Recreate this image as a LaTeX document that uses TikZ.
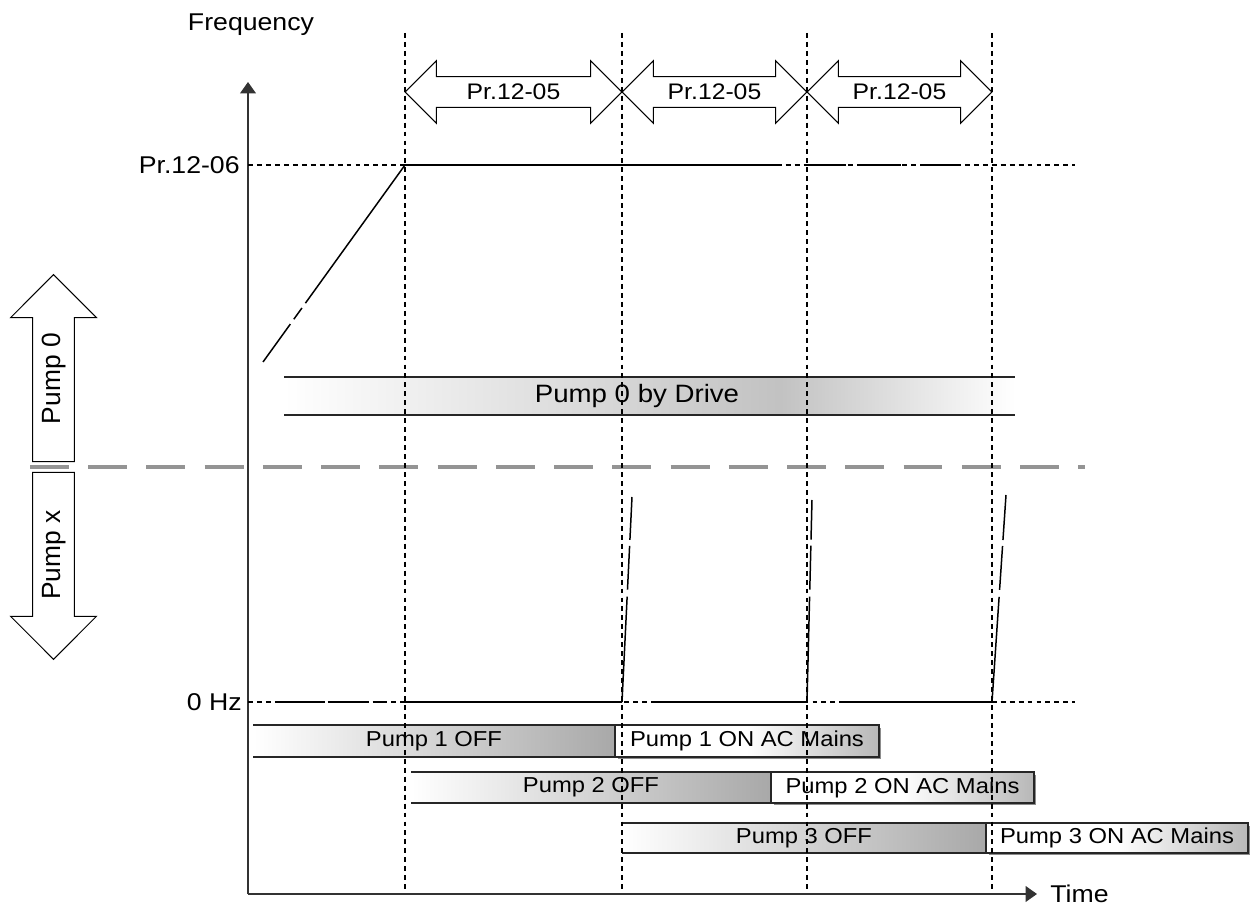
\documentclass[tikz,border=0pt]{standalone}
\usepackage{fontspec}
\setmainfont{Liberation Sans}[FakeStretch=1.1]
\newfontfamily\pumpfont{Liberation Sans}
\usetikzlibrary{arrows.meta, shapes.arrows}

\begin{document}
\begin{tikzpicture}[
  x=0.02cm, y=-0.02cm,
  guide/.style={black, line width=0.7pt, dash pattern=on 2.8pt off 2.3pt},
  curve/.style={black, line width=0.85pt},
  axis/.style={black!80, line width=0.8pt, -{Triangle[length=6.5pt, width=9pt]}},
  sepline/.style={black!42, line width=2.3pt, dash pattern=on 22.1pt off 11.05pt},
  span/.style={double arrow, draw=black, line width=0.6pt, double arrow head extend=9pt, text height=9.1pt, text depth=0pt, inner ysep=3.95pt, inner xsep=0pt, font=\fontsize{12.8}{14}\selectfont},
  pumparrow/.style={single arrow, draw=black, line width=0.6pt, single arrow head extend=12.5pt, text height=10.7pt, text depth=3.1pt, inner ysep=4.7pt, minimum height=3.74cm, font=\pumpfont\fontsize{15}{18}\selectfont, rotate=90, anchor=tip},
  barline/.style={black!85, line width=0.7pt},
  bartext/.style={font=\fontsize{12.3}{14}\selectfont, inner sep=0pt},
  lbl/.style={font=\fontsize{13.8}{15}\selectfont, inner sep=0pt, text height=9.9pt, text depth=0pt}
]
  \useasboundingbox (0,0) rectangle (1259,912);

  % axes
  \coordinate (o) at (248,894);
  \coordinate (ytop) at (248,82);
  \coordinate (xend) at (1037,894);
  \draw[axis] (o) -- (ytop);
  \draw[axis] (o) -- (xend);
  \node[lbl] (freq) at (251,22) {Frequency};
  \node[lbl, anchor=east] (fmax) at (240,165) {Pr.12-06};
  \node[lbl, anchor=east] (fzero) at (242,702) {0 Hz};
  \node[lbl, anchor=west] (time) at (1050,894) {Time};
  \draw[guide] (248,165) -- (1075,165);
  \draw[guide] (248,702) -- (1075,702);

  % drive / mains split
  \node[pumparrow] (pump0) at (53.5,274) {Pump 0};
  \node[pumparrow, shape border rotate=180] (pumpx) at (53.5,660) {Pump x};
  \draw[sepline] (30,467) -- (1085,467);

  \node[span, minimum height=4.34cm] (span1) at (513.5,92) {Pr.12-05};
  \node[span, minimum height=3.7cm] (span2) at (714.5,92) {Pr.12-05};
  \node[span, minimum height=3.7cm] (span3) at (899.5,92) {Pr.12-05};

  % frequency of pump 0
  \draw[curve, dash pattern=on 26.6pt off 3.4pt on 7.9pt off 3.4pt on 100pt] (263,362) -- (405,165);
  \draw[curve, dash pattern=on 214.3pt off 13.6pt on 23.2pt off 7.9pt on 23.2pt off 11.3pt on 22.7pt off 50pt] (405,165) -- (963,165);

  \shade[left color=white, right color=black!24] (284,377) rectangle (780,415);
  \shade[left color=black!24, right color=white] (780,377) rectangle (1015,415);
  \draw[barline] (284,377) -- (1015,377) (284,415) -- (1015,415);
  \node[font=\fontsize{14.3}{16}\selectfont, inner sep=0pt] (drive) at (637,396) {Pump 0 by Drive};

  % frequency of pump x
  \draw[curve, dash pattern=on 27.2pt off 2.8pt on 21pt off 4.5pt on 5.7pt off 12.5pt on 200pt] (275,702) -- (622,702);
  \draw[curve] (652,702) -- (807,702);
  \draw[curve] (842,702) -- (992,702);
  \foreach \xa/\xb/\yt in {622/632/497, 807/812/500, 992/1006/495}
    \draw[curve, dash pattern=on 60pt off 4pt on 25pt off 3.4pt on 30pt] (\xa,702) -- (\xb,\yt);

  % pump states
  \foreach \n/\xa/\xb/\xc/\ya/\yb in {1/253/615/879/725/757, 2/411/771/1034/772/803, 3/622/986/1248/823/853} {
    \shade[left color=white, right color=black!34] (\xa,\ya) rectangle (\xb,\yb);
    \draw[barline] (\xa,\ya) -- (\xb,\ya) (\xa,\yb) -- (\xb,\yb);
    \node[bartext] (off\n) at ({(\xa+\xb)/2},{(\ya+\yb)/2}) {Pump \n{} OFF};
    \fill[black!45] (\xb+3,\ya+3) rectangle (\xc+2,\yb+2);
    \shade[left color=white, right color=black!28, middle color=white] (\xb,\ya) rectangle (\xc,\yb);
    \draw[barline] (\xb,\ya) rectangle (\xc,\yb);
    \node[bartext] (on\n) at ({(\xb+\xc)/2},{(\ya+\yb)/2}) {Pump \n{} ON AC Mains};
  }

  \foreach \x in {405,622,807,992}
    \draw[guide] (\x,33) -- (\x,890);
\end{tikzpicture}
\end{document}
